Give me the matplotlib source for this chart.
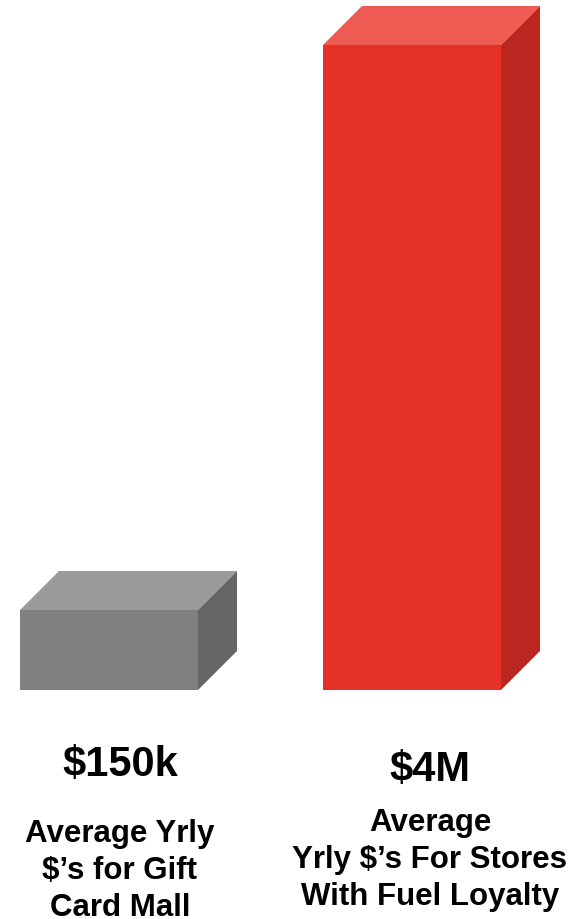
import matplotlib

matplotlib.use("Agg")
import matplotlib.pyplot as plt
from matplotlib.patches import Polygon

# data (bar heights as drawn, values shown as labels)
categories = ["Gift Card Mall", "Fuel Loyalty"]
heights = [80, 645]
value_labels = ["$150k", "$4M"]
desc_labels = ["Average Yrly\n$’s for Gift\nCard Mall",
               "Average\nYrly $’s For Stores\nWith Fuel Loyalty"]

front_colors = ["#808080", "#E63127"]
top_colors = ["#9A9A9A", "#EE5B53"]
side_colors = ["#666666", "#BB2620"]

W, H = 586, 919
BASE = 690  # baseline in pixels from top
DEPTH = 39

fig = plt.figure(figsize=(W / 100, H / 100), dpi=100)
ax = fig.add_axes([0, 0, 1, 1])
ax.set_xlim(0, W)
ax.set_ylim(BASE - H, BASE)
ax.axis("off")

xs = [109, 412]
bars = ax.bar(xs, heights, width=178, color=front_colors, zorder=3)

for b, tc, sc in zip(bars, top_colors, side_colors):
    x0, w, h = b.get_x(), b.get_width(), b.get_height()
    x1 = x0 + w
    top = Polygon([(x0, h), (x0 + DEPTH, h + DEPTH), (x1 + DEPTH, h + DEPTH), (x1, h)],
                  closed=True, facecolor=tc, edgecolor="none", zorder=2)
    side = Polygon([(x1, 0), (x1, h), (x1 + DEPTH, h + DEPTH), (x1 + DEPTH, DEPTH)],
                   closed=True, facecolor=sc, edgecolor="none", zorder=2)
    ax.add_patch(top)
    ax.add_patch(side)

fam = ["Liberation Sans", "DejaVu Sans"]
val_x = [120, 430]
val_y = [BASE - 765, BASE - 770]
desc_y = [BASE - 871, BASE - 860]  # centre of middle line
for i in range(len(categories)):
    ax.text(val_x[i], val_y[i], value_labels[i], ha="center", va="center",
            fontsize=30, fontweight="bold", family=fam)
    ax.text(val_x[i], desc_y[i], desc_labels[i], ha="center", va="center",
            fontsize=22.5, fontweight="bold", family=fam, linespacing=1.3)

fig.savefig("out.png", dpi=100)
